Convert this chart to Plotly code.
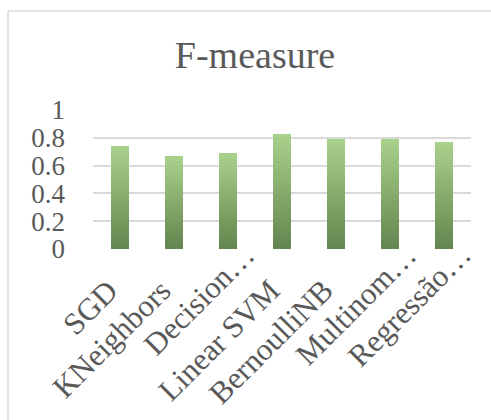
import plotly.graph_objects as go

# F-measure per classifier
categories = ["SGD", "KNeighbors", "DecisionTree", "Linear SVM", "BernoulliNB",
              "MultinomialNB", "Regressão Logística"]
tick_labels = ["SGD", "KNeighbors", "Decision…", "Linear SVM", "BernoulliNB",
               "Multinom…", "Regressão…"]
f_measure = [0.74, 0.67, 0.69, 0.83, 0.79, 0.79, 0.77]

y_ticks = [0, 0.2, 0.4, 0.6, 0.8, 1]
y_tick_text = ["0", "0.2", "0.4", "0.6", "0.8", "1"]

FONT = "Liberation Serif, Times New Roman, serif"
TEXT_COLOR = "#595959"
GRID_COLOR = "#d9d9d9"

# vertical gradient: dark green at the base, light green at the top of each bar
BOTTOM_RGB = (100, 132, 78)
TOP_RGB = (169, 210, 140)
N_STEPS = 40


def blend(t):
    r, g, b = (round(a + (c - a) * t) for a, c in zip(BOTTOM_RGB, TOP_RGB))
    return f"rgb({r},{g},{b})"


fig = go.Figure()
for k in range(N_STEPS):
    fig.add_trace(go.Bar(
        x=categories,
        y=[v / N_STEPS for v in f_measure],
        marker=dict(color=blend((k + 0.5) / N_STEPS), line=dict(width=0)),
        showlegend=False,
        hoverinfo="skip",
    ))

L, R, T, B = 93, 20, 110, 171
W, H = 491, 420
plot_w = W - L - R
plot_h = H - T - B

# chart frame (top and left edges)
frame_left = (8 - L) / plot_w
frame_top = (H - B - 11) / plot_h
fig.add_shape(type="line", xref="paper", yref="paper",
              x0=frame_left, x1=(W - L + 10) / plot_w, y0=frame_top, y1=frame_top,
              line=dict(color=GRID_COLOR, width=1.5), layer="below")
fig.add_shape(type="line", xref="paper", yref="paper",
              x0=frame_left, x1=frame_left, y0=frame_top, y1=-(B + 10) / plot_h,
              line=dict(color=GRID_COLOR, width=1.5), layer="below")

# slanted category labels; shortened labels (ending in "…") sit a little higher
for cat, label in zip(categories, tick_labels):
    short = label.endswith("…")
    fig.add_annotation(
        x=cat, xref="x", y=0, yref="paper",
        text=label, showarrow=False, textangle=-45,
        xanchor="right", yanchor="top",
        xshift=36 if short else 7, yshift=15 if short else -21,
        font=dict(size=31, family=FONT, color=TEXT_COLOR),
    )

fig.update_layout(
    width=W, height=H,
    margin=dict(l=L, r=R, t=T, b=B),
    paper_bgcolor="white", plot_bgcolor="white",
    barmode="stack",
    bargap=0.667,
    font=dict(family=FONT, color=TEXT_COLOR),
    title=dict(text="F-measure", font=dict(family=FONT, size=38, color=TEXT_COLOR),
               x=255 / W, xref="container", xanchor="center",
               y=1 - 55 / H, yref="container", yanchor="middle"),
    xaxis=dict(range=[-0.5, len(categories) - 0.5], fixedrange=True,
               showticklabels=False, showgrid=False, showline=False, ticks=""),
    yaxis=dict(
        range=[0, 1], tickmode="array", tickvals=y_ticks, ticktext=y_tick_text,
        tickfont=dict(size=27, family=FONT, color=TEXT_COLOR),
        showgrid=True, gridcolor=GRID_COLOR, gridwidth=1.5,
        zeroline=False, showline=False, ticks="", ticklabelstandoff=27,
    ),
)

fig.write_html("out.html")
